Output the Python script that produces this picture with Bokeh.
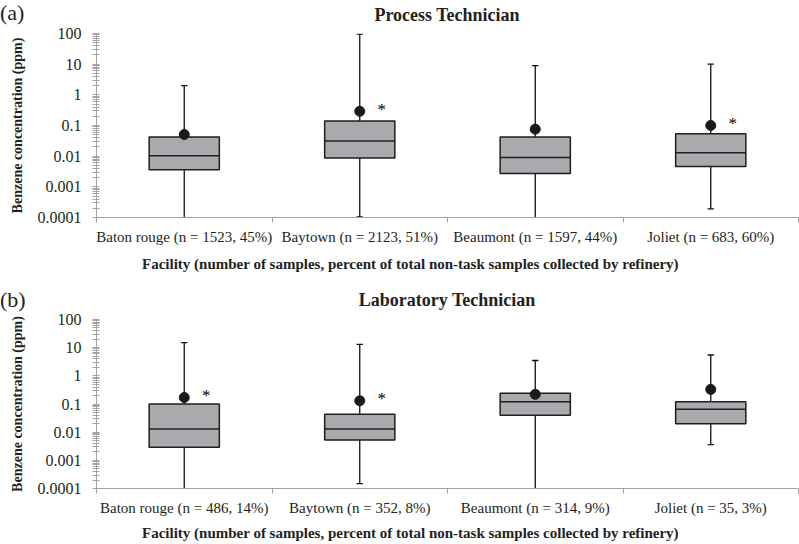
from bokeh.plotting import figure
from bokeh.layouts import column
from bokeh.models import Range1d, FixedTicker, Div
from bokeh.core.properties import value
from bokeh.embed import file_html
from bokeh.resources import INLINE

# ---------------- data ----------------
facilities = ["Baton rouge", "Baytown", "Beaumont", "Joliet"]

proc_n = [1523, 2123, 1597, 683]
proc_pct = [45, 51, 44, 60]
proc_min = [0.00005, 0.000105, 0.00005, 0.00019]
proc_q1 = [0.0036, 0.0087, 0.0027, 0.0046]
proc_med = [0.0104, 0.031, 0.0091, 0.013]
proc_q3 = [0.042, 0.14, 0.042, 0.054]
proc_max = [2.0, 95.0, 9.0, 10.0]
proc_mean = [0.051, 0.29, 0.076, 0.10]
proc_star = [False, True, False, True]

lab_n = [486, 352, 314, 35]
lab_pct = [14, 8, 9, 3]
lab_min = [0.00005, 0.00015, 0.00005, 0.0036]
lab_q1 = [0.0029, 0.0053, 0.040, 0.020]
lab_med = [0.013, 0.013, 0.12, 0.065]
lab_q3 = [0.10, 0.043, 0.24, 0.12]
lab_max = [15.0, 13.0, 3.5, 5.5]
lab_mean = [0.17, 0.13, 0.22, 0.33]
lab_star = [True, True, False, False]

y_ticks = [0.0001, 0.001, 0.01, 0.1, 1, 10, 100]
y_tick_labels = ["0.0001", "0.001", "0.01", "0.1", "1", "10", "100"]

x_label = "Facility (number of samples, percent of total non-task samples collected by refinery)"
y_label = "Benzene concentration (ppm)"

FONT = "Liberation Serif"
TXT = "#231f20"
GRAY_AX = "#a3a3a3"
BOX_FILL = "#a9aaad"

WIDTH = 799
LEFT = 96


def text_strip(height, items):
    """An HTML strip with absolutely positioned texts (line-height 1)."""
    spans = []
    for (x, top, txt, size, weight, centred) in items:
        shift = "transform: translateX(-50%);" if centred else ""
        spans.append(
            '<span style="position:absolute; left:%.1fpx; top:%.1fpx; %s '
            'font-family:\'%s\'; font-size:%s; font-weight:%s; line-height:1; '
            'color:%s; white-space:nowrap;">%s</span>'
            % (x, top, shift, FONT, size, weight, TXT, txt))
    html = ('<div style="position:relative; width:%dpx; height:%dpx; margin:0; padding:0;">%s</div>'
            % (WIDTH, height, "".join(spans)))
    return Div(text=html, width=WIDTH, height=height, margin=0)


def make_panel(n, pct, mins, q1, med, q3, maxs, means, stars,
               b_top, frame_h, b_bottom):
    p = figure(width=WIDTH, height=b_top + frame_h + b_bottom,
               x_range=Range1d(0, 4), y_range=Range1d(1e-4, 100),
               y_axis_type="log", output_backend="svg", toolbar_location=None,
               min_border_left=LEFT, min_border_right=1,
               min_border_top=b_top, min_border_bottom=b_bottom)
    p.outline_line_color = None
    p.grid.visible = False
    p.background_fill_color = "white"
    p.border_fill_color = "white"

    xs = [i + 0.5 for i in range(len(facilities))]
    labels = ["%s (n = %d, %d%%)" % (f, nn, pc) for f, nn, pc in zip(facilities, n, pct)]

    # x axis: labels at category centres, tick marks at category boundaries
    p.xaxis.ticker = FixedTicker(ticks=xs, minor_ticks=[0, 1, 2, 3, 4])
    p.xaxis.major_label_overrides = {x: l for x, l in zip(xs, labels)}
    p.xaxis.major_tick_line_color = None
    p.xaxis.major_tick_out = 0
    p.xaxis.major_tick_in = 0
    p.xaxis.minor_tick_line_color = GRAY_AX
    p.xaxis.minor_tick_out = 5
    p.xaxis.minor_tick_in = 0
    p.xaxis.axis_line_color = GRAY_AX
    p.xaxis.major_label_standoff = 6
    p.xaxis.major_label_text_font = FONT
    p.xaxis.major_label_text_font_size = "15px"
    p.xaxis.major_label_text_color = TXT

    # y axis (log)
    minor = [m * 10.0 ** e for e in range(-4, 2) for m in range(2, 10)]
    p.yaxis.ticker = FixedTicker(ticks=y_ticks, minor_ticks=minor)
    p.yaxis.major_label_overrides = {t: l for t, l in zip(y_ticks, y_tick_labels)}
    p.yaxis.axis_line_color = GRAY_AX
    p.yaxis.major_tick_line_color = GRAY_AX
    p.yaxis.minor_tick_line_color = GRAY_AX
    p.yaxis.major_tick_out = 4
    p.yaxis.major_tick_in = 3
    p.yaxis.minor_tick_out = 4
    p.yaxis.minor_tick_in = 3
    p.yaxis.major_label_standoff = 11
    p.yaxis.major_label_text_font = FONT
    p.yaxis.major_label_text_font_size = "16px"
    p.yaxis.major_label_text_color = TXT
    p.yaxis.axis_label = y_label
    p.yaxis.axis_label_text_font = FONT
    p.yaxis.axis_label_text_font_size = "14px"
    p.yaxis.axis_label_text_font_style = "bold"
    p.yaxis.axis_label_text_color = TXT
    p.yaxis.axis_label_standoff = 10

    # whiskers
    p.segment(x0=xs, y0=q3, x1=xs, y1=maxs, line_color="#111111", line_width=1.3)
    p.segment(x0=xs, y0=q1, x1=xs, y1=mins, line_color="#111111", line_width=1.3)
    cw = 0.018
    p.segment(x0=[x - cw for x in xs], y0=maxs, x1=[x + cw for x in xs], y1=maxs,
              line_color="#111111", line_width=1.3)
    p.segment(x0=[x - cw for x in xs], y0=mins, x1=[x + cw for x in xs], y1=mins,
              line_color="#111111", line_width=1.3)

    # boxes
    bw = 0.4
    p.vbar(x=xs, width=bw, bottom=q1, top=q3, fill_color=BOX_FILL,
           line_color="#1e1e1e", line_width=1.5)
    p.segment(x0=[x - bw / 2 for x in xs], y0=med, x1=[x + bw / 2 for x in xs], y1=med,
              line_color="#1e1e1e", line_width=1.5)

    # means
    p.scatter(x=xs, y=means, size=10, fill_color="#1a1a1a", line_color="#1a1a1a")

    # significance asterisks
    sx = [x for x, s in zip(xs, stars) if s]
    sy = [m for m, s in zip(means, stars) if s]
    p.text(x=sx, y=sy, text=["*"] * len(sx), x_offset=22, y_offset=-2,
           text_align="center", text_baseline="middle",
           text_font=value(FONT), text_font_size="17px", text_color="black")
    return p


TITLE_X = LEFT + (WIDTH - LEFT - 1) / 2.0
XLAB_X = LEFT + 46

head_a = text_strip(25, [
    (0, 1.5, "(a)", "22px", "normal", False),
    (TITLE_X, 5.6, "Process Technician", "18px", "bold", True),
])
p1 = make_panel(proc_n, proc_pct, proc_min, proc_q1, proc_med, proc_q3,
                proc_max, proc_mean, proc_star,
                b_top=8, frame_h=184, b_bottom=30)
foot_a = text_strip(33, [
    (XLAB_X, 9.9, x_label, "15px", "bold", False),
])
head_b = text_strip(31, [
    (0, 8.6, "(b)", "22px", "normal", False),
    (TITLE_X, 11.4, "Laboratory Technician", "18px", "bold", True),
])
p2 = make_panel(lab_n, lab_pct, lab_min, lab_q1, lab_med, lab_q3,
                lab_max, lab_mean, lab_star,
                b_top=8, frame_h=169, b_bottom=30)
foot_b = text_strip(25, [
    (XLAB_X, 7.9, x_label, "15px", "bold", False),
])

layout = column(head_a, p1, foot_a, head_b, p2, foot_b, spacing=0)
open("out.html", "w").write(file_html(layout, INLINE))
